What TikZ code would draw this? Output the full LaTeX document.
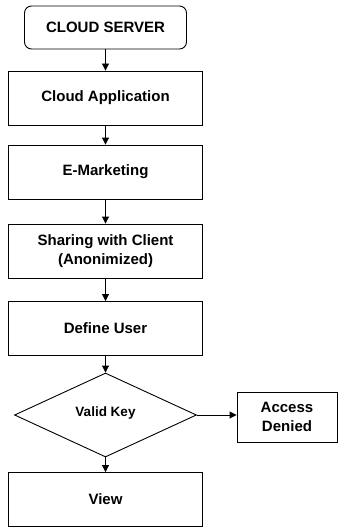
\documentclass[tikz,border=0pt]{standalone}
\usepackage{fontspec}
\setmainfont{Liberation Sans}
\usetikzlibrary{shapes.geometric,arrows.meta}

\tikzset{
    box/.style={draw, line width=0.9pt, minimum width=194pt, minimum height=54pt,
        inner sep=2pt, align=center, font=\fontsize{15}{19}\selectfont\bfseries},
    arr/.style={line width=0.9pt, -{Triangle[length=7pt,width=7pt]}}
}

\begin{document}
\begin{tikzpicture}[x=1pt,y=-1pt]
            \useasboundingbox (0,0) rectangle (338,527);

            % main column
            \node[box, rounded corners=7pt, minimum width=162pt, minimum height=43pt] (server) at (105.5,27.5) {CLOUD SERVER};
            \node[box] (app) at (105.5,98) {Cloud Application};
            \node[box] (market) at (105.5,172) {E-Marketing};
            \node[box] (share) at (105.5,251) {Sharing with Client\\(Anonimized)};
            \node[box] (user) at (105.5,328.5) {Define User};
            \node[draw, line width=0.9pt, diamond, shape aspect=2.17, minimum width=182pt, minimum height=84pt,
                inner sep=0pt, font=\fontsize{13.5}{16}\selectfont\bfseries] (key) at (105.5,415) {\raisebox{7pt}{Valid Key}};
            \node[box] (view) at (105.5,499.5) {View};

            % side branch
            \node[box, minimum width=100pt, minimum height=50pt] (deny) at (287,417) {Access\\Denied};

            \draw[arr] (server) -- (app);
            \draw[arr] (app) -- (market);
            \draw[arr] (market) -- (share);
            \draw[arr] (share) -- (user);
            \draw[arr] (user) -- (key);
            \draw[arr] (key) -- (view);
            \draw[arr] (key.east) -- (key.east -| deny.west);
        \end{tikzpicture}
\end{document}
